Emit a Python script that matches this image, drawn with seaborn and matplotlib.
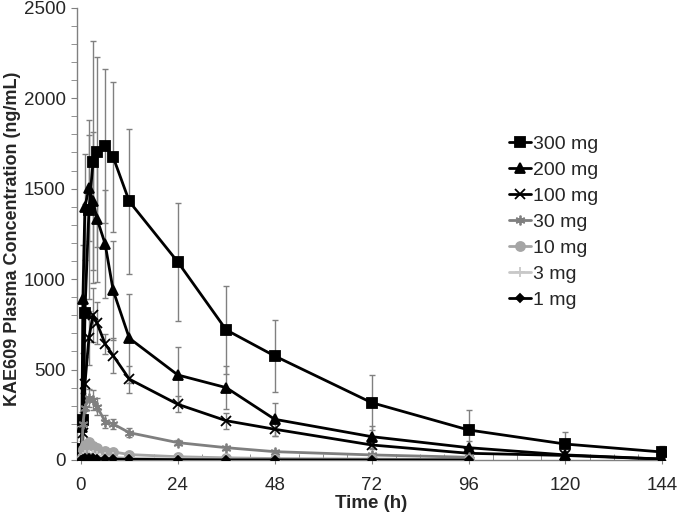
import numpy as np
import pandas as pd
import matplotlib
matplotlib.use('Agg')
import matplotlib.pyplot as plt
from matplotlib.ticker import MultipleLocator
import seaborn as sns

# sampling times (h)
times = [0, 0.25, 0.5, 1, 2, 3, 4, 6, 8, 12, 24, 36, 48, 72, 96, 120, 144]
nan = np.nan

# mean concentrations (ng/mL)
mean_300 = [0, 60, 221, 815, 1383, 1646, 1702, 1737, 1674, 1429, 1095, 719, 575, 317, 166, 88, 44]
mean_200 = [0, 184, 890, 1400, 1503, 1433, 1333, 1195, 937, 673, 470, 400, 225, 129, 68, 28, 5]
mean_100 = [0, 20, 150, 420, 675, 802, 756, 642, 577, 447, 308, 217, 170, 83, 37, 25, 5]
mean_30 = [0, 40, 200, 290, 341, 332, 295, 212, 199, 151, 96, 68, 46, 28, 15, nan, nan]
mean_10 = [0, 15, 60, 85, 98, 80, 65, 52, 45, 30, 18, 12, 8, 5, 3, nan, nan]
mean_3 = [0, 5, 18, 25, 30, 26, 22, 18, 15, 10, 6, 4, 3, 2, 1, nan, nan]
mean_1 = [0, 2, 6, 9, 10, 9, 8, 6, 5, 4, 2, 1, 1, 0.5, 0.3, nan, nan]

# standard deviations
sd_300 = [0, 30, 150, 600, 494, 668, 525, 426, 415, 400, 325, 245, 197, 151, 110, 69, 35]
sd_200 = [0, 80, 300, 292, 294, 380, 350, 300, 275, 245, 156, 120, 90, 60, 35, 20, 10]
sd_100 = [0, 10, 60, 150, 150, 150, 115, 56, 95, 75, 45, 45, 35, 25, 15, 10, 5]
sd_30 = [0, 10, 40, 50, 50, 55, 45, 35, 30, 25, 15, 12, 10, 8, 5, nan, nan]
sd_10 = [0, 3, 10, 15, 15, 12, 10, 8, 6, 5, 3, 2, 2, 1, 1, nan, nan]
sd_3 = [0, 1, 4, 5, 6, 5, 4, 3, 3, 2, 1, 1, 1, 0.5, 0.3, nan, nan]
sd_1 = [0, 0.5, 1, 2, 2, 2, 2, 1, 1, 1, 0.5, 0.3, 0.3, 0.2, 0.1, nan, nan]

doses = ['300 mg', '200 mg', '100 mg', '30 mg', '10 mg', '3 mg', '1 mg']
means = [mean_300, mean_200, mean_100, mean_30, mean_10, mean_3, mean_1]
sds = [sd_300, sd_200, sd_100, sd_30, sd_10, sd_3, sd_1]

colors = ['black', 'black', 'black', '#7f7f7f', '#a5a5a5', '#c8c8c8', 'black']
markers = ['s', '^', 'x', (6, 2, 0), 'o', '+', 'D']
msizes = [6.5, 6.5, 6.5, 7, 6.5, 7, 4.5]

sns.set_style('white')
plt.rcParams['font.family'] = ['Liberation Sans', 'DejaVu Sans']

fig = plt.figure(figsize=(6.8, 5.18), dpi=100)
ax = fig.add_axes([0.113, 0.112, 0.867, 0.873])

for dose, m, s, c, mk, ms in zip(doses, means, sds, colors, markers, msizes):
    df = pd.DataFrame({'Time': times, 'Conc': m, 'SD': s}).dropna()
    ax.errorbar(df['Time'], df['Conc'], yerr=df['SD'], fmt='none',
                ecolor='#808080', elinewidth=1, capsize=2, capthick=1, zorder=1)
    sns.lineplot(data=df, x='Time', y='Conc', ax=ax, color=c, marker=mk,
                 markersize=ms, markeredgecolor=c, markerfacecolor=c,
                 markeredgewidth=1.3, linewidth=2, label=dose, zorder=3)

ax.set_xlim(-1, 145)
ax.set_ylim(0, 2500)
ax.set_xticks(np.arange(0, 145, 24))
ax.set_yticks(np.arange(0, 2501, 500))
ax.xaxis.set_minor_locator(MultipleLocator(6))
ax.yaxis.set_minor_locator(MultipleLocator(100))
ax.tick_params(axis='x', which='major', direction='inout', length=6, color='#808080',
               labelsize=13.5, pad=9)
ax.tick_params(axis='x', which='minor', direction='in', length=4, color='#808080')
ax.tick_params(axis='y', which='both', direction='out', length=4, color='#808080',
               labelsize=13.5, left=True, pad=4)
ax.tick_params(axis='x', bottom=True, which='both')

for side in ['top', 'right']:
    ax.spines[side].set_visible(False)
for side in ['left', 'bottom']:
    ax.spines[side].set_color('#808080')
    ax.spines[side].set_linewidth(1)
ax.spines['left'].set_bounds(0, 2500)
ax.spines['bottom'].set_bounds(0, 144)

ax.set_xlabel('Time (h)', fontsize=13.5, fontweight='bold', labelpad=1)
ax.set_ylabel('KAE609 Plasma Concentration (ng/mL)', fontsize=13, fontweight='bold')
ax.yaxis.set_label_coords(-0.094, 0.49)

ax.legend(loc='upper left', bbox_to_anchor=(0.72, 0.735), frameon=False,
          handlelength=1.15, handletextpad=0.1, labelspacing=0.43, fontsize=14,
          borderaxespad=0)

fig.savefig('out.png', dpi=100)
